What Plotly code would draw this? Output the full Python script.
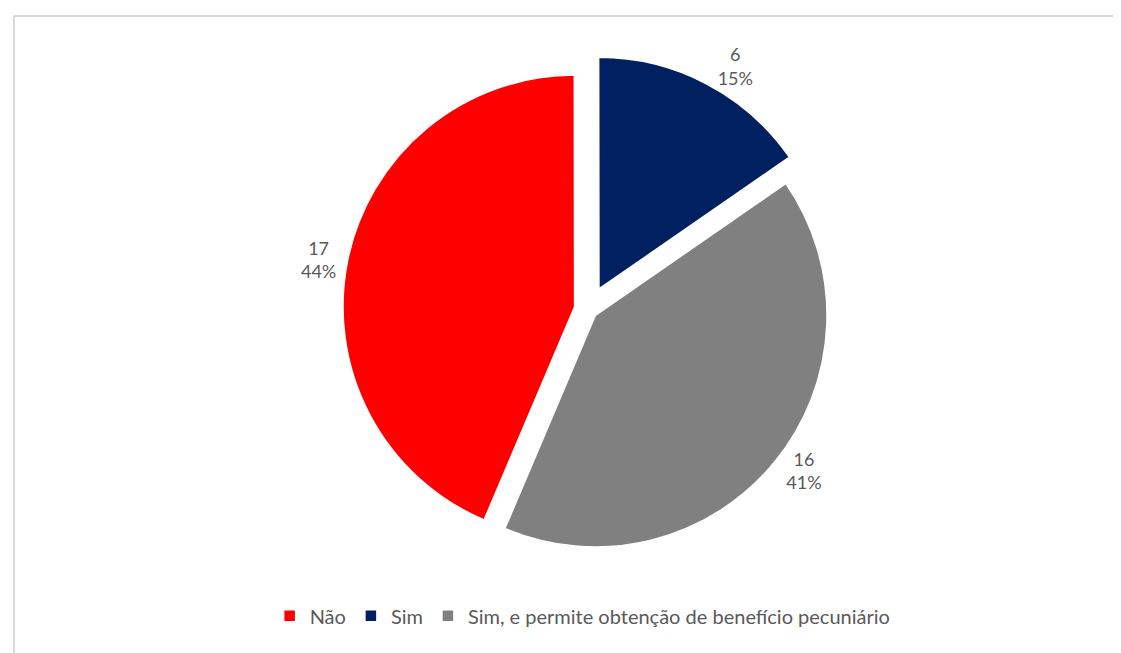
import plotly.graph_objects as go

categories = ["Não", "Sim", "Sim, e permite obtenção de benefício pecuniário"]
values = [17, 6, 16]
colors = ["#FF0000", "#002060", "#808080"]
pulls = [0.06, 0.1, 0.04]

fig = go.Figure(
    go.Pie(
        labels=categories,
        values=values,
        sort=False,
        direction="clockwise",
        rotation=203,
        pull=pulls,
        marker=dict(colors=colors, line=dict(color="#FFFFFF", width=1.5)),
        textinfo="value+percent",
        texttemplate="%{value}<br>%{percent:.0%}",
        textposition="outside",
        outsidetextfont=dict(family="Lato, 'Open Sans', sans-serif", size=18, color="#595959"),
        domain=dict(x=[0.1, 0.93], y=[0.15, 0.94]),
        hoverinfo="label+value+percent",
    )
)

fig.update_layout(
    width=1121,
    height=653,
    paper_bgcolor="#FFFFFF",
    plot_bgcolor="#FFFFFF",
    margin=dict(l=6, r=0, t=8, b=0, autoexpand=False),
    font=dict(family="Lato, 'Open Sans', sans-serif", size=18, color="#595959"),
    legend=dict(
        orientation="h",
        x=0.51,
        xanchor="center",
        y=0.04,
        yanchor="bottom",
        font=dict(size=20, color="#595959"),
    ),
    showlegend=True,
    shapes=[
        dict(type="line", xref="paper", yref="paper", x0=0, x1=1, y0=1, y1=1,
             line=dict(color="#D9D9D9", width=2)),
        dict(type="line", xref="paper", yref="paper", x0=0, x1=0, y0=0, y1=1,
             line=dict(color="#D9D9D9", width=2)),
    ],
)

fig.write_html("out.html")
